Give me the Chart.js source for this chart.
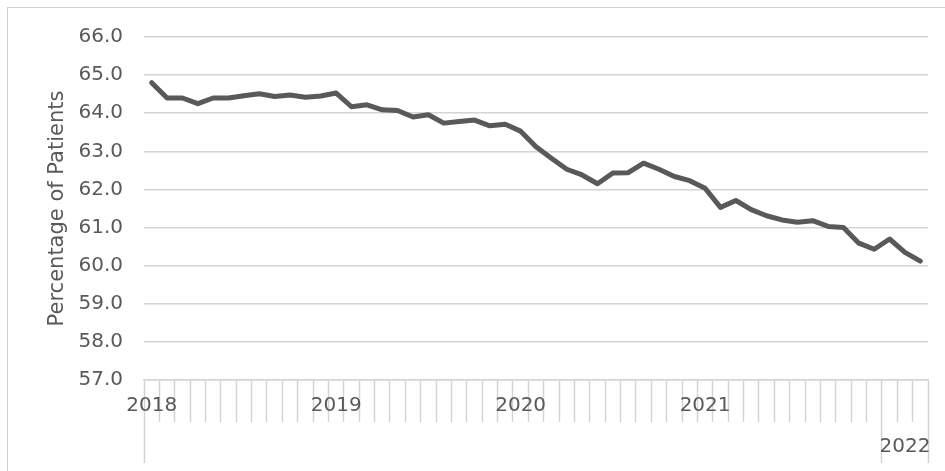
<!DOCTYPE html>
<html>
<head>
<meta charset="utf-8">
<script src="https://cdn.jsdelivr.net/npm/chart.js@4.4.0/dist/chart.umd.min.js"></script>
<style>
  body { margin: 0; background: #fff; overflow: hidden; }
  #wrap { position: relative; width: 945px; height: 471px; }
  #frame { position: absolute; left: 7px; top: 7px; width: 960px; height: 480px; border: 1px solid #d0d0d0; }
</style>
</head>
<body>
<div id="wrap">
  <div id="frame"></div>
  <canvas id="patients-chart"></canvas>
</div>
<script>
// monthly categories, Jan 2018 - Mar 2022
let months = [
  "Jan 2018","Feb 2018","Mar 2018","Apr 2018","May 2018","Jun 2018","Jul 2018","Aug 2018","Sep 2018","Oct 2018","Nov 2018","Dec 2018",
  "Jan 2019","Feb 2019","Mar 2019","Apr 2019","May 2019","Jun 2019","Jul 2019","Aug 2019","Sep 2019","Oct 2019","Nov 2019","Dec 2019",
  "Jan 2020","Feb 2020","Mar 2020","Apr 2020","May 2020","Jun 2020","Jul 2020","Aug 2020","Sep 2020","Oct 2020","Nov 2020","Dec 2020",
  "Jan 2021","Feb 2021","Mar 2021","Apr 2021","May 2021","Jun 2021","Jul 2021","Aug 2021","Sep 2021","Oct 2021","Nov 2021","Dec 2021",
  "Jan 2022","Feb 2022","Mar 2022"
];

// percentage of patients
let values = [
  64.80, 64.40, 64.40, 64.25, 64.40, 64.40, 64.46, 64.51, 64.44, 64.48, 64.42, 64.45,
  64.53, 64.17, 64.22, 64.09, 64.07, 63.90, 63.96, 63.74, 63.78, 63.82, 63.67, 63.71,
  63.53, 63.12, 62.82, 62.53, 62.38, 62.15, 62.43, 62.44, 62.69, 62.53, 62.34, 62.23,
  62.03, 61.53, 61.71, 61.47, 61.31, 61.20, 61.14, 61.18, 61.03, 61.00, 60.59, 60.43,
  60.70, 60.35, 60.12
];

// tick labels: years on the first row, last group on the second row
let top_years = ["2018", "2019", "2020", "2021"];
let group_year = "2022";
let y_ticks_min = 57, y_ticks_max = 66;

let top_row = months.map(m => (m.startsWith("Jan") && top_years.includes(m.slice(4))) ? m.slice(4) : "");
let group_idx = months.map((m, i) => m.endsWith(group_year) ? i : -1).filter(i => i >= 0);
let group_mid = group_idx[Math.floor(group_idx.length / 2)];
let bottom_row = months.map((m, i) => i === group_mid ? group_year : "");

const text_color = "#595959";
const grid_color = "#d4d4d4";
const font = { family: "'DejaVu Sans', sans-serif", size: 20 };

const ctx = document.getElementById("patients-chart").getContext("2d");

let graph = new Chart(ctx, {
  type: "line",
  data: {
    labels: months,
    datasets: [{
      label: "Percentage of Patients",
      data: values,
      borderColor: "#595959",
      backgroundColor: "#595959",
      borderWidth: 5,
      borderJoinStyle: "round",
      borderCapStyle: "round",
      pointRadius: 0,
      tension: 0,
      fill: false,
    }],
  },
  options: {
    responsive: true,
    maintainAspectRatio: false,
    animation: false,
    layout: { padding: { left: 45, top: 37, right: 17, bottom: 4 } },
    plugins: {
      legend: { display: false },
      tooltip: { enabled: false },
    },
    scales: {
      y: {
        min: y_ticks_min,
        max: y_ticks_max,
        afterFit: (scale) => { scale.width = 99; },
        ticks: {
          stepSize: 1,
          padding: 21,
          color: text_color,
          font: font,
          callback: (v) => v.toFixed(1),
        },
        grid: { color: grid_color, lineWidth: 1.5, drawTicks: false },
        border: { display: false },
        title: {
          display: true,
          text: "Percentage of Patients",
          color: text_color,
          font: { family: font.family, size: 21 },
          padding: 0,
        },
      },
      x: {
        type: "category",
        weight: 0,
        offset: true,
        afterFit: (scale) => { scale.height = 42; },
        ticks: {
          autoSkip: false,
          maxRotation: 0,
          padding: -28,
          color: text_color,
          font: font,
          callback: (v, i) => top_row[i],
        },
        grid: {
          offset: true,
          drawOnChartArea: false,
          tickLength: 42,
          tickColor: grid_color,
          tickWidth: 1.5,
        },
        border: { display: true, color: grid_color, width: 1.5 },
      },
      x2: {
        type: "category",
        position: "bottom",
        weight: 1,
        offset: true,
        labels: bottom_row,
        afterFit: (scale) => { scale.height = 45; },
        ticks: {
          autoSkip: false,
          maxRotation: 0,
          padding: -28,
          color: text_color,
          font: font,
        },
        grid: {
          offset: true,
          drawOnChartArea: false,
          tickLength: 41,
          tickWidth: 1.5,
          tickColor: (c) => (c.index === undefined || c.index === 0 || c.index === group_idx[0]) ? grid_color : "rgba(0,0,0,0)",
        },
        border: { display: false },
      },
    },
  },
});
</script>
</body>
</html>
